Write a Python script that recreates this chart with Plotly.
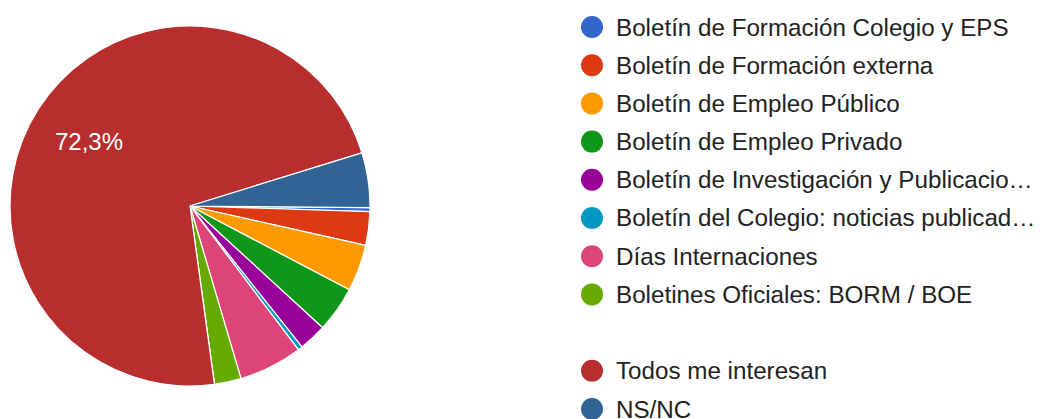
import math
import plotly.graph_objects as go

# Data (order as drawn clockwise, starting at 3 o'clock)
labels = [
    "Boletín de Formación Colegio y EPS",
    "Boletín de Formación externa",
    "Boletín de Empleo Público",
    "Boletín de Empleo Privado",
    "Boletín de Investigación y Publicacio…",
    "Boletín del Colegio: noticias publicad…",
    "Días Internaciones",
    "Boletines Oficiales: BORM / BOE",
    "",
    "Todos me interesan",
    "NS/NC",
]
values = [0.36, 3.0, 4.2, 4.1, 2.5, 0.4, 5.7, 2.4, 0, 72.3, 4.9]
slice_text = ["", "", "", "", "", "", "", "", "", "72,3%", ""]
colors = ["#3366cc", "#dc3912", "#ff9900", "#109618", "#990099", "#0099c6",
          "#dd4477", "#66aa00", "rgba(0,0,0,0)", "#b82e2e", "#316395"]

W, H = 1045, 419
FONT = "Arial, Liberation Sans, sans-serif"

cx, cy, r = 190, 206, 180
start_angle = 90.5

fig = go.Figure()
fig.add_trace(go.Pie(
    labels=labels,
    values=values,
    textinfo="none",
    sort=False,
    direction="clockwise",
    rotation=start_angle,
    marker=dict(colors=colors, line=dict(color="white", width=1.2)),
    domain=dict(x=[(cx - r) / W, (cx + r) / W], y=[(H - cy - r) / H, (H - cy + r) / H]),
    showlegend=False,
    hoverinfo="label+percent",
))

annotations = []
shapes = []

# Slice percentage labels, placed at the slice's mid-angle
total = sum(values)
acc = 0.0
for v, t in zip(values, slice_text):
    mid = start_angle + (acc + v / 2) / total * 360
    acc += v
    if not t:
        continue
    a = math.radians(mid)
    px = cx + 0.665 * r * math.sin(a)
    py = cy - 0.665 * r * math.cos(a)
    annotations.append(dict(text=t, xref="paper", yref="paper",
                            x=px / W, y=(H - py) / H, xanchor="center", yanchor="middle",
                            showarrow=False,
                            font=dict(family=FONT, size=24, color="white")))

# Custom legend (large round dots, as in the reference)
y0, dy = 27, 38.2
dot_x, dot_r = 592, 11
for i, (lab, col) in enumerate(zip(labels, colors)):
    if lab == "":
        continue
    yc = y0 + i * dy
    shapes.append(dict(type="circle", xref="paper", yref="paper",
                       x0=(dot_x - dot_r) / W, x1=(dot_x + dot_r) / W,
                       y0=(H - yc - dot_r) / H, y1=(H - yc + dot_r) / H,
                       fillcolor=col, line=dict(width=0)))
    annotations.append(dict(text=lab, xref="paper", yref="paper",
                            x=614 / W, y=(H - yc) / H, xanchor="left", yanchor="middle",
                            showarrow=False,
                            font=dict(family=FONT, size=24.2, color="#222222")))

fig.update_layout(
    width=W, height=H,
    margin=dict(l=0, r=0, t=0, b=0),
    paper_bgcolor="white",
    plot_bgcolor="white",
    shapes=shapes,
    annotations=annotations,
)

fig.write_html("out.html",
               config={"displayModeBar": False},
               post_script="document.body.style.margin='0';document.body.style.overflow='hidden';")
